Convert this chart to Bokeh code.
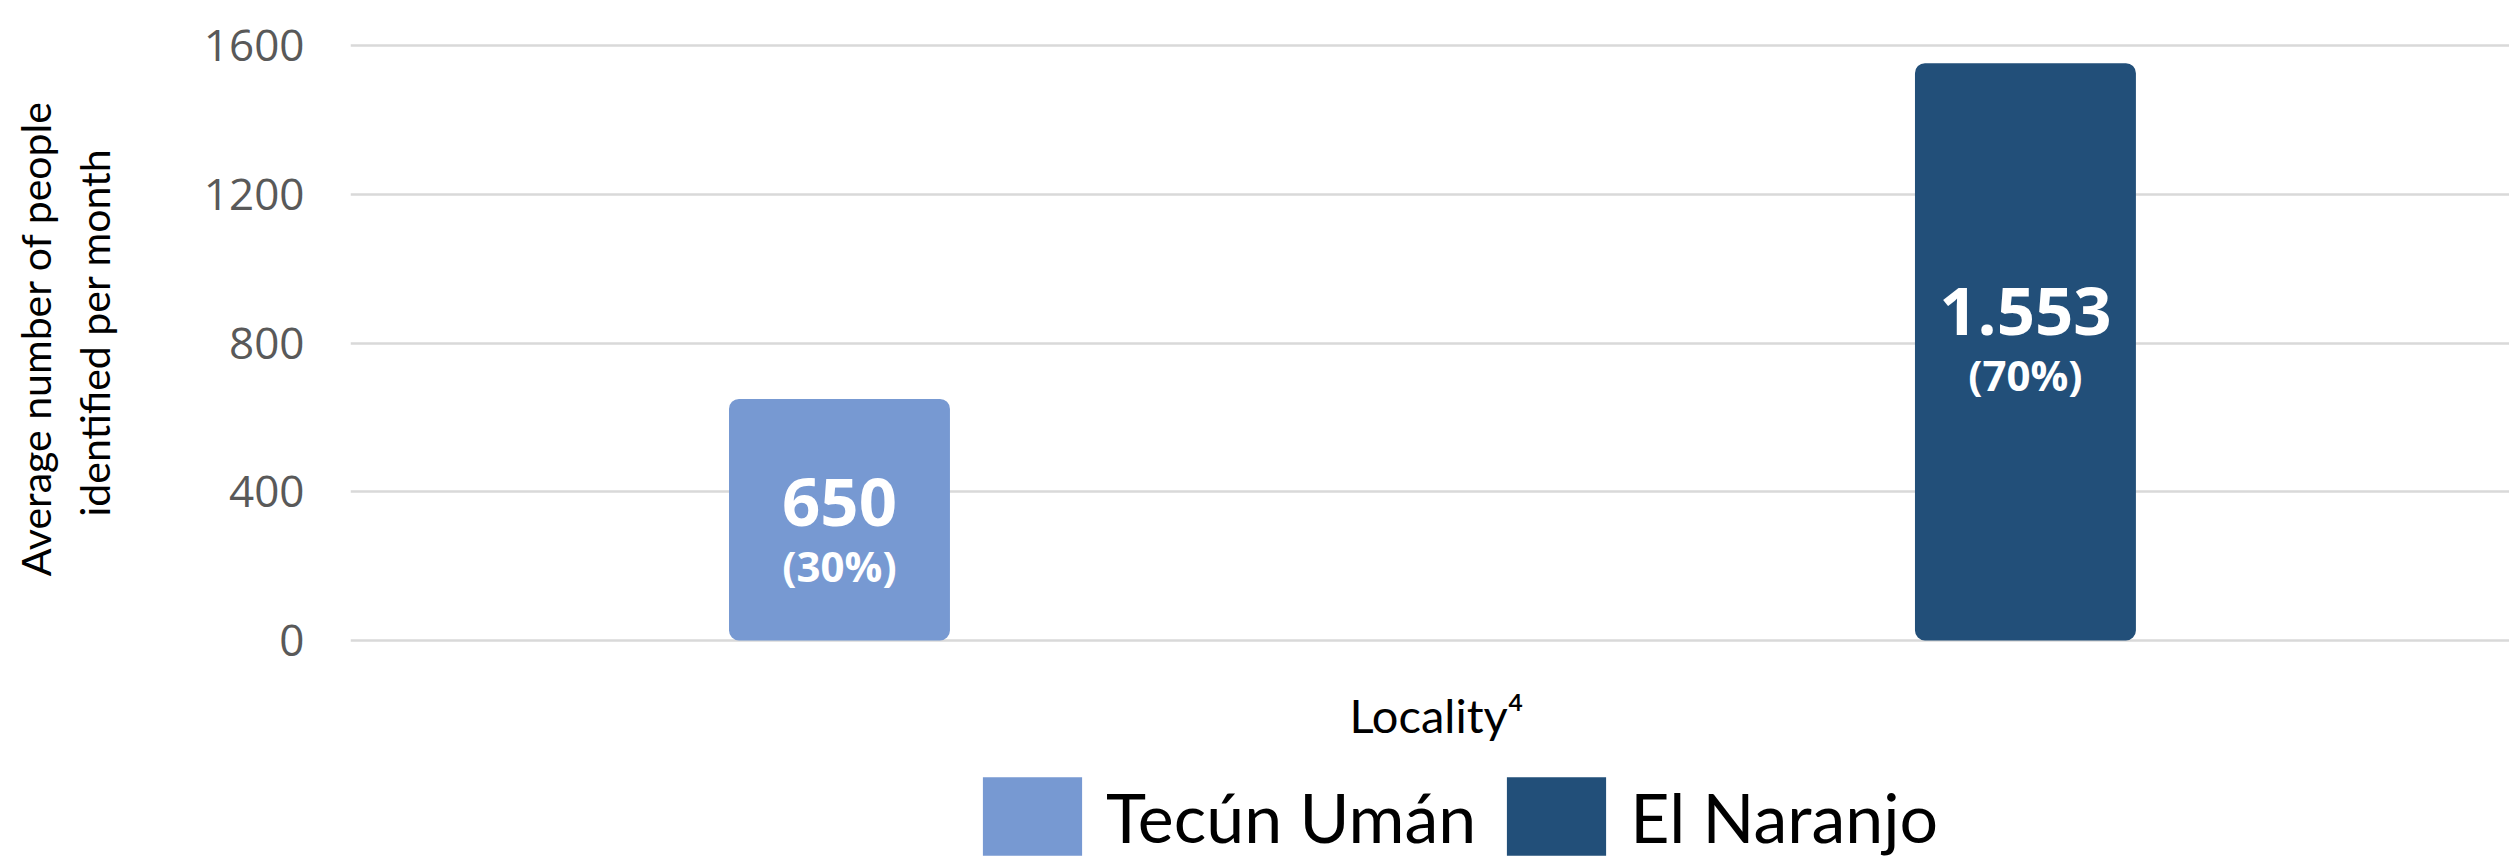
from bokeh.plotting import figure
from bokeh.models import (ColumnDataSource, Range1d, FixedTicker, Legend, LegendItem, Label, Title)
from bokeh.core.properties import value
from bokeh.embed import file_html
from bokeh.resources import INLINE

# ---- data ----
localities = ["Tecún Umán", "El Naranjo"]
avg_people = [650, 1553]
bar_colors = ["#7799D2", "#224F79"]
y_ticks = [0, 400, 800, 1200, 1600]
y_axis_title_lines = ["Average number of people", "identified per month"]
x_axis_title = "Locality\u2074"

total = sum(avg_people)
xpos = [i + 0.5 for i in range(len(localities))]
value_text = [f"{v:,}".replace(",", ".") for v in avg_people]
pct_text = [f"({round(100 * v / total)}%)" for v in avg_people]
label_y = [v * 0.57 for v in avg_people]

src = ColumnDataSource(dict(x=xpos, top=avg_people, color=bar_colors,
                            name=localities, vtxt=value_text, ptxt=pct_text,
                            ly=label_y))

X0, X1 = 0.0877, 1.909
p = figure(output_backend="svg", toolbar_location=None,
           frame_width=2160, frame_height=854,
           x_range=Range1d(X0, X1), y_range=Range1d(-597, 1700),
           min_border_left=349, min_border_right=0, min_border_top=8,
           min_border_bottom=0)
p.outline_line_color = None
p.background_fill_color = "white"
p.border_fill_color = "white"

bars = p.vbar(x="x", top="top", bottom=0, width=0.1863, color="color",
              source=src, border_radius=10, line_color=None)

p.text(x="x", y="ly", text="vtxt", source=src, text_color="white",
       text_font=value("Open Sans"), text_font_style="bold",
       text_font_size="67px", text_align="center", text_baseline="middle")
p.text(x="x", y="ly", text="ptxt", source=src, text_color="white",
       text_font=value("Open Sans"), text_font_style="bold",
       text_font_size="42px", text_align="center", text_baseline="middle",
       y_offset=63)

# y axis
p.yaxis.ticker = FixedTicker(ticks=y_ticks)
p.yaxis.axis_line_color = None
p.yaxis.major_tick_line_color = None
p.yaxis.minor_tick_line_color = None
p.yaxis.major_label_text_font = "Open Sans"
p.yaxis.major_label_text_font_size = "44px"
p.yaxis.major_label_text_color = "#595959"
p.yaxis.major_label_standoff = 40
# blank spacer label to keep the title lines clear of the tick labels
p.yaxis.axis_label = " "
p.yaxis.axis_label_text_font_size = "10px"
p.yaxis.axis_label_standoff = 68

# y axis title: two side titles (inner line first), anchored from the top
for line, off, so in [(y_axis_title_lines[1], 140, 0), (y_axis_title_lines[0], 92, 16)]:
    p.add_layout(Title(text=line, align="right", offset=off, standoff=so,
                       text_font="Lato", text_font_size="41px",
                       text_font_style="normal", text_color="black"), "left")

# x axis: hidden, its title is drawn as a label under the bars
p.xaxis.visible = False
p.add_layout(Label(x=(X0 + X1) / 2 + 0.005, y=-199, text=x_axis_title,
                   text_font="Lato", text_font_size="47px", text_color="black",
                   text_align="center", text_baseline="middle"))

p.xgrid.grid_line_color = None
p.ygrid.grid_line_color = "#D9D9D9"
p.ygrid.grid_line_width = 2.5

items = [LegendItem(label=n, renderers=[bars], index=i) for i, n in enumerate(localities)]
legend = Legend(items=items, orientation="horizontal", location=(620, -3),
                glyph_width=124, glyph_height=98, label_standoff=12, spacing=18,
                padding=0, margin=0, border_line_color=None,
                background_fill_alpha=0,
                label_text_font="Lato", label_text_font_size="68px",
                label_text_color="black", label_text_baseline="middle")
p.add_layout(legend, "center")

open("out.html", "w").write(file_html(p, INLINE))
